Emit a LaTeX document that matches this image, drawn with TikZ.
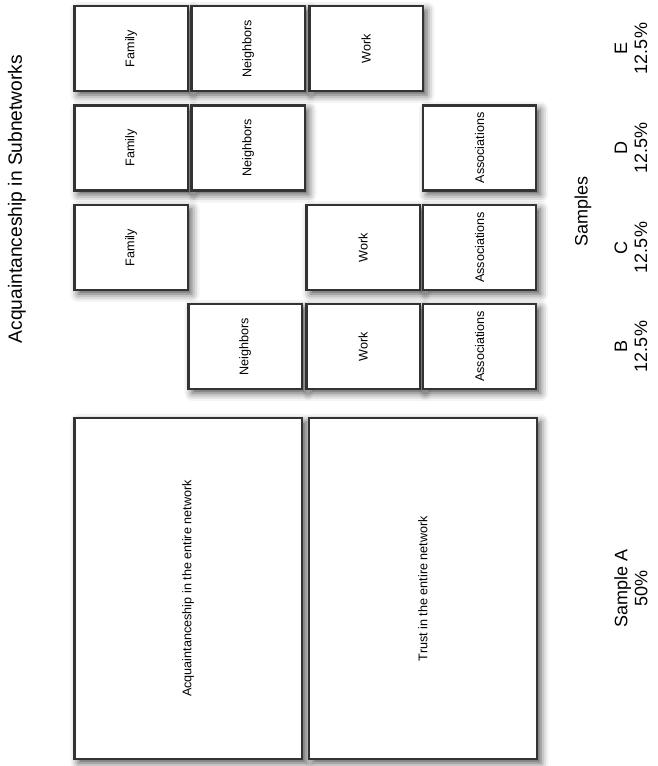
\documentclass[tikz,border=0pt]{standalone}
\usepackage{fontspec}
\setmainfont{Liberation Sans}
\usepackage{graphicx}
\usetikzlibrary{shadows.blur}

\definecolor{boxgray}{HTML}{333333}
\newcommand{\vtext}[1]{\rotatebox{90}{#1}}

\tikzset{
  card/.style={draw=boxgray, line width=1.1pt, fill=white, inner sep=0pt,
    minimum width=56.6pt, minimum height=42.5pt,
    blur shadow={shadow xshift=2pt, shadow yshift=-2pt,
      shadow blur radius=4pt, shadow opacity=70},
    font=\fontsize{6.3}{7.5}\selectfont},
  bigcard/.style={card, minimum width=113.8pt, minimum height=170.5pt},
  tag/.style={align=center, rotate=90, inner sep=0pt,
    font=\fontsize{9}{10}\selectfont}
}

\begin{document}
\begin{tikzpicture}[x=0.5pt, y=-0.5pt]
    \useasboundingbox (0,0) rectangle (658,766);
    % Title on the left.
        \node[tag, font=\fontsize{9.6}{11}\selectfont] (title) at (17,199) {Acquaintanceship in Subnetworks};
    % Sample E.
        \node[card] (famE) at (131,48.5) {\vtext{Family}};
        \node[card] (neiE) at (248,48.5) {\vtext{Neighbors}};
        \node[card] (workE) at (366,48.5) {\vtext{Work}};
    % Sample D.
        \node[card] (famD) at (131,148) {\vtext{Family}};
        \node[card] (neiD) at (248,148) {\vtext{Neighbors}};
        \node[card] (assD) at (479.6,148) {\vtext{Associations}};
    % Sample C.
        \node[card] (famC) at (131,247.5) {\vtext{Family}};
        \node[card] (workC) at (363,247.5) {\vtext{Work}};
        \node[card] (assC) at (479.6,247.5) {\vtext{Associations}};
    % Sample B.
        \node[card] (neiB) at (245,346.5) {\vtext{Neighbors}};
        \node[card] (workB) at (363,346.5) {\vtext{Work}};
        \node[card] (assB) at (479.6,346.5) {\vtext{Associations}};
    % Sample A.
        \node[bigcard] (acqA) at (188.2,588.5) {\vtext{Acquaintanceship in the entire network}};
        \node[bigcard] (trustA) at (422.9,588.5) {\vtext{Trust in the entire network}};
    % Below nodes are the sample labels.
        \node[tag] (labE) at (631,48.5) {E\\12.5\%};
        \node[tag] (labD) at (631,148) {D\\12.5\%};
        \node[tag] (labC) at (631,247.5) {C\\12.5\%};
        \node[tag] (labB) at (631,346.5) {B\\12.5\%};
        \node[tag] (samples) at (583,211) {Samples};
        \node[tag] (labA) at (631,588.5) {Sample A\\50\%};
\end{tikzpicture}
\end{document}
